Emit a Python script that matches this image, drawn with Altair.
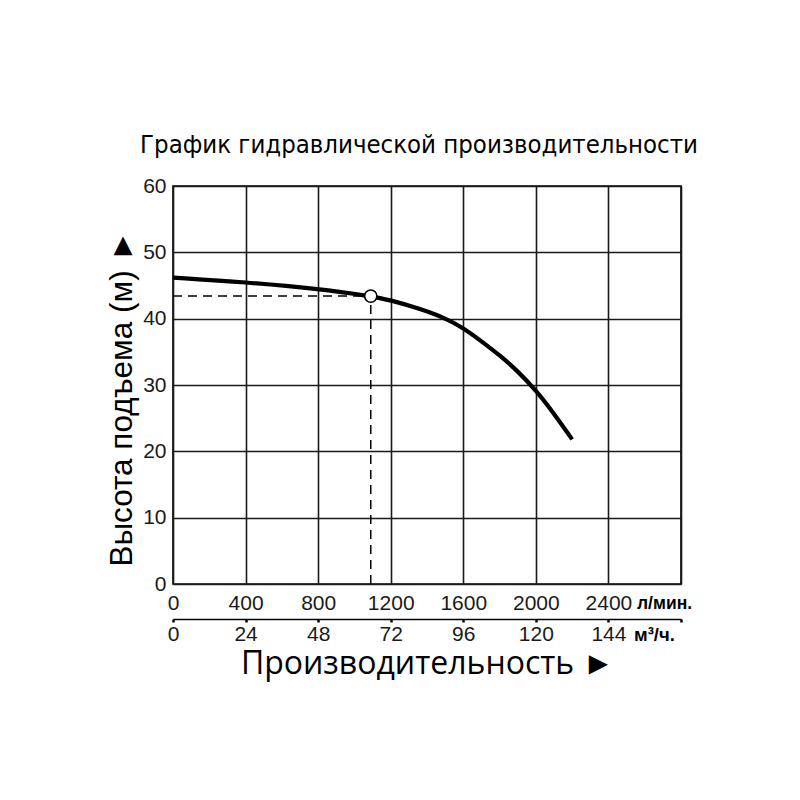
import altair as alt
import pandas as pd

# ---- data ----
flow_lpm = [0, 400, 800, 1090, 1200, 1360, 1500, 1600, 1700, 1800, 1900, 2000, 2100, 2200]
head_m = [46.2, 45.5, 44.5, 43.4, 42.8, 41.5, 40.1, 38.6, 36.6, 34.5, 32.1, 29.2, 25.7, 21.8]

duty_flow = 1090
duty_head = 43.4

lpm_ticks = [0, 400, 800, 1200, 1600, 2000, 2400, 2800]
m3h_ticks = [0, 24, 48, 72, 96, 120, 144, 168]
head_ticks = [0, 10, 20, 30, 40, 50, 60]

title_text = "График гидравлической производительности"
y_title = "Высота подъема (м) ►"
x_title = "Производительность ►"
unit_lpm = "л/мин."
unit_m3h = "м³/ч."

curve_df = pd.DataFrame({"flow": flow_lpm, "head": head_m})
duty_df = pd.DataFrame({"flow": [duty_flow], "head": [duty_head]})
guide_df = pd.DataFrame({
    "flow": [0, duty_flow],
    "flow2": [duty_flow, duty_flow],
    "head": [duty_head, 0],
    "head2": [duty_head, duty_head],
})
m3h_df = pd.DataFrame({"m3h": [m3h_ticks[0], m3h_ticks[-1]]})

NUM_FONT = "Liberation Sans"

xscale = alt.Scale(domain=[0, 2800], nice=False, zero=True)
yscale = alt.Scale(domain=[0, 60], nice=False)

x_axis = alt.Axis(
    values=lpm_ticks, title=None, grid=True, gridColor="#1a1a1a", gridWidth=1.6,
    gridOpacity=1, ticks=False, tickSize=0, domain=False, orient="bottom", format="d",
    labelFont=NUM_FONT, labelFontSize=21, labelColor="#1a1a1a", labelPadding=8,
    labelExpr="datum.value == 2800 ? '' : datum.label", labelFlush=False,
    labelOverlap=False,
)
y_axis = alt.Axis(
    values=head_ticks, title=y_title, grid=True, gridColor="#1a1a1a", gridWidth=1.6,
    gridOpacity=1, ticks=False, tickSize=0, domain=False, orient="left",
    labelFont=NUM_FONT, labelFontSize=21, labelColor="#1a1a1a", labelPadding=7,
    labelFlush=False, labelOverlap=False,
    titleFont="Liberation Sans", titleFontSize=31.5, titleFontWeight="normal",
    titleColor="black", titleX=-42, titleY=212, titleAngle=270,
    titleAlign="center", titleBaseline="alphabetic",
)

def X(field="flow"):
    return alt.X(f"{field}:Q", scale=xscale, axis=x_axis)

def Y(field="head"):
    return alt.Y(f"{field}:Q", scale=yscale, axis=y_axis)

curve = alt.Chart(curve_df).mark_line(
    color="black", strokeWidth=4.2, interpolate="basis"
).encode(x=X(), y=Y())

guides = alt.Chart(guide_df).mark_rule(
    color="black", strokeWidth=1.5, strokeDash=[9, 6]
).encode(x=X(), x2="flow2:Q", y=Y(), y2="head2:Q")

duty = alt.Chart(duty_df).mark_point(
    shape="circle", filled=True, fill="white", stroke="black", strokeWidth=1.6,
    size=150, opacity=1,
).encode(x=X(), y=Y())

lpm_unit = alt.Chart(pd.DataFrame({"t": [unit_lpm]})).mark_text(
    font="Liberation Sans", fontSize=17.5, fontWeight="bold", color="black",
    align="left", baseline="middle",
).encode(x=alt.value(464), y=alt.value(418), text="t:N")

m3h_unit = alt.Chart(pd.DataFrame({"t": [unit_m3h]})).mark_text(
    font="Liberation Sans", fontSize=18.5, fontWeight="bold", color="black",
    align="left", baseline="middle",
).encode(x=alt.value(461), y=alt.value(449), text="t:N")

main = alt.layer(curve, guides, duty, lpm_unit, m3h_unit)

second_axis = alt.Chart(m3h_df).mark_point(opacity=0).encode(
    x=alt.X(
        "m3h:Q", scale=alt.Scale(domain=[0, 168], nice=False, zero=True),
        axis=alt.Axis(
            values=m3h_ticks, offset=35, orient="bottom", grid=False, domain=True,
            domainColor="black", domainWidth=1.6, ticks=True, tickSize=3,
            tickWidth=2.5, tickColor="black", format="d",
            labelFont=NUM_FONT, labelFontSize=21, labelColor="#1a1a1a", labelPadding=1,
            labelExpr="datum.value == 168 ? '' : datum.label", labelFlush=False,
            labelOverlap=False,
            title=x_title, titleFont="Open Sans", titleFontSize=32,
            titleFontWeight="normal", titleColor="black", titlePadding=4,
        ),
    ),
    y=alt.value(0),
)

chart = alt.layer(main, second_axis).resolve_scale(x="independent").properties(
    width=508,
    height=398,
    background="white",
    autosize=alt.AutoSizeParams(type="none"),
    padding={"left": 165, "top": 178, "right": 100, "bottom": 160},
    title=alt.TitleParams(
        title_text, font="DejaVu Sans Condensed, Roboto Condensed, Liberation Sans Narrow, Roboto",
        fontSize=25.5, fontWeight="normal", frame="group", baseline="alphabetic",
        color="black", anchor="middle", offset=0, dy=3, dx=-8,
    ),
).configure_view(stroke="black", strokeWidth=1.6)

chart.save("out.html", embed_options={"renderer": "svg", "actions": False})
